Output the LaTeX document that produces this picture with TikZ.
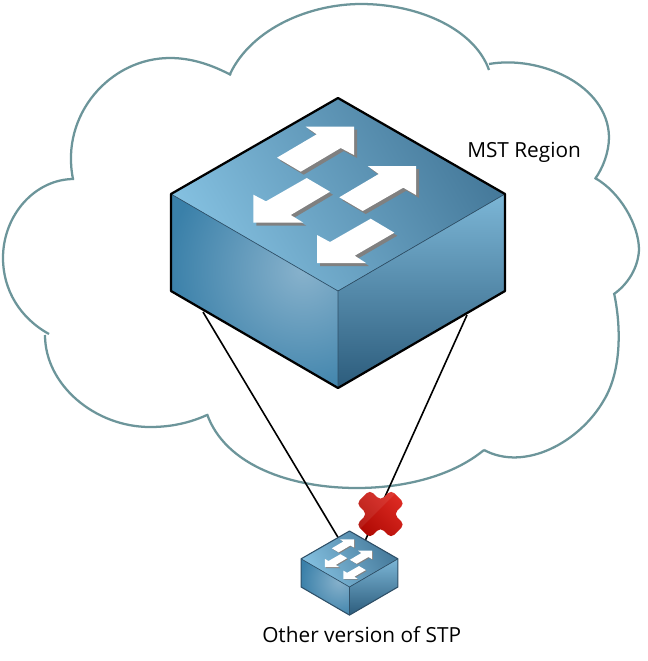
\documentclass[tikz,border=0pt]{standalone}
\usepackage{fontspec}
\setmainfont{Open Sans}
\definecolor{cloudline}{HTML}{6C959A}
\definecolor{topdark}{HTML}{45799A}
\definecolor{topmid}{HTML}{6A9FBF}
\definecolor{toplight}{HTML}{84C0E0}
\definecolor{leftbase}{HTML}{3A80A9}
\definecolor{leftglow}{HTML}{88B2CC}
\definecolor{rightlight}{HTML}{7CB6D6}
\definecolor{rightmid}{HTML}{4F87A8}
\definecolor{rightdark}{HTML}{2C5C7C}
\definecolor{inneredge}{HTML}{2F5068}
\definecolor{arrowshadow}{HTML}{808080}
\definecolor{crosstop}{HTML}{DC2A22}
\definecolor{crossbot}{HTML}{B00A04}
\tikzset{
  cloudlobe/.style={draw=cloudline,line width=1.7pt},
  link/.style={draw=black,line width=1.2pt},
  label/.style={anchor=base west,inner sep=0pt,font=\fontsize{15.6pt}{18pt}\selectfont,text=black},
  arrowface/.style={fill=white},
  arrowback/.style={fill=arrowshadow},
  pics/switch/.style 2 args={code={
    \begin{scope}
      \clip (0,0) -- (167,96) -- (0,193) -- (-167,96) -- cycle;
      \fill[top color=topdark,middle color=topmid,bottom color=toplight,shading angle=-60] (-167,0) rectangle (167,193);
    \end{scope}
    \fill[leftbase] (-167,96) -- (0,193) -- (0,290) -- (-167,193) -- cycle;
    \begin{scope}
      \clip (-167,96) -- (0,193) -- (0,290) -- (-167,193) -- cycle;
      \shade[inner color=leftglow,outer color=leftbase] (-35,172) circle (135);
    \end{scope}
    \begin{scope}
      \clip (167,96) -- (0,193) -- (0,290) -- (167,193) -- cycle;
      \fill[top color=rightlight,middle color=rightmid,bottom color=rightdark] (0,96) rectangle (167,290);
    \end{scope}
    \draw[inneredge,line width=0.5pt] (-167,96) -- (0,193) -- (167,96) (0,193) -- (0,290);
    \draw[#1,line width=#2,line join=round] (0,0) -- (167,96) -- (167,193) -- (0,290) -- (-167,193) -- (-167,96) -- cycle;
    \foreach \sx/\sy/\sty in {3/3/arrowback,0/0/arrowface}{
      \begin{scope}[shift={(\sx,\sy)}]
        \fill[\sty] (-32.3,28.7) -- (16,28.7) -- (16,57) -- (2.7,50) -- (-37.3,73.7) -- (-61,59.7) -- (-21.3,36.3) -- cycle;
        \fill[\sty] (29.7,68) -- (78,68) -- (78,97) -- (65.3,89.7) -- (24.7,113) -- (1.3,99.3) -- (40.7,76) -- cycle;
        \fill[\sty] (-31.3,80) -- (-8,93.7) -- (-47.3,117) -- (-34.7,124.7) -- (-84.7,124.7) -- (-84.7,96.7) -- (-72,103.3) -- cycle;
        \fill[\sty] (32.7,120.7) -- (56.3,134.7) -- (16.7,157.7) -- (28,165) -- (-21,165) -- (-21,137) -- (-8,144) -- cycle;
      \end{scope}
    }
  }}
}
\begin{document}
\begin{tikzpicture}[x=0.75pt,y=-0.75pt]
\useasboundingbox (0,0) rectangle (648,661);
\fill[white] (0,0) rectangle (648,661);
% cloud
\draw[cloudlobe] (230,74) .. controls (252,28) and (310,4) .. (361,4) .. controls (420,4) and (475,30) .. (489,70);
\draw[cloudlobe] (489,64) .. controls (540,55) and (608,85) .. (609,137) .. controls (609,152) and (603,168) .. (595,179);
\draw[cloudlobe] (595,178) .. controls (620,192) and (639,225) .. (639,250) .. controls (638,268) and (628,284) .. (614,294);
\draw[cloudlobe] (614,293) .. controls (621,325) and (622,370) .. (604,400) .. controls (580,442) and (525,472) .. (484,450);
\draw[cloudlobe] (484,450) .. controls (450,478) and (400,488) .. (357,488) .. controls (290,488) and (225,465) .. (207,414);
\draw[cloudlobe] (207,415) .. controls (185,425) and (165,427) .. (150,427) .. controls (95,427) and (45,385) .. (45,335);
\draw[cloudlobe] (49,334) .. controls (20,318) and (3,290) .. (3,258) .. controls (3,215) and (35,179) .. (74,179);
\draw[cloudlobe] (73,179) .. controls (60,115) and (110,58) .. (170,58) .. controls (192,58) and (212,65) .. (231,75);
% named link ends
\coordinate (bigL) at (203,312);
\coordinate (bigR) at (467,315);
\coordinate (smallL) at (339,539);
\coordinate (smallR) at (365,541);
\draw[link] (bigL) -- (smallL);
\draw[link] (bigR) -- (smallR);
% switches
\pic (big) at (338,98) {switch={black}{1.7pt}};
\pic[scale=0.29] (small) at (349.5,531) {switch={inneredge}{0.8pt}};
% cross
\begin{scope}[shift={(380.5,514)},rotate=45]
  \def\crosspath{(-9.5,-24.5) -- (9.5,-24.5) -- (9.5,-9.5) -- (24.5,-9.5) -- (24.5,9.5) -- (9.5,9.5) -- (9.5,24.5) -- (-9.5,24.5) -- (-9.5,9.5) -- (-24.5,9.5) -- (-24.5,-9.5) -- (-9.5,-9.5) -- cycle}
  \shade[rounded corners=3.5pt,top color=crosstop,bottom color=crossbot,shading angle=-45] \crosspath;
  \begin{scope}
    \clip[rounded corners=3.5pt] \crosspath;
    \fill[white,opacity=0.08] (-30,-30) rectangle (30,-4);
  \end{scope}
\end{scope}
\node[label] (mst) at (467,157) {MST Region};
\node[label] (other) at (262,642) {Other version of STP};
\end{tikzpicture}
\end{document}
